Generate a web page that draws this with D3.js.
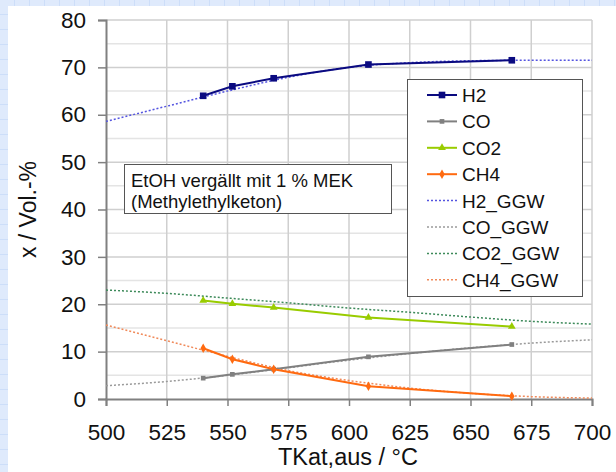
<!DOCTYPE html>
<html>
<head>
<meta charset="utf-8">
<script src="https://cdn.jsdelivr.net/npm/d3@7"></script>
<style>
  body { margin: 0; background: #fff; }
  svg text { font-family: "Liberation Sans", Arial, sans-serif; fill: #111; }
</style>
</head>
<body>
<div id="chart"></div>
<script>
// measured points
const temps = [540, 552, 569, 608, 667];
const h2 = [64.0, 66.0, 67.7, 70.6, 71.5];
const co = [4.4, 5.2, 6.3, 8.9, 11.5];
const co2 = [20.8, 20.1, 19.3, 17.2, 15.3];
const ch4 = [10.7, 8.4, 6.3, 2.7, 0.6];

// equilibrium (GGW) curves
const ggwTemps = [500, 525, 550, 575, 600, 625, 650, 675, 700];
const h2Ggw = [58.6, 61.8, 65.0, 67.9, 70.0, 71.0, 71.4, 71.5, 71.5];
const coGgw = [2.8, 3.7, 5.0, 6.6, 8.2, 9.6, 10.8, 11.8, 12.5];
const co2Ggw = [23.0, 22.3, 21.3, 20.3, 19.2, 18.3, 17.3, 16.4, 15.8];
const ch4Ggw = [15.6, 12.3, 9.0, 6.0, 3.9, 2.3, 1.2, 0.5, 0.2];

const xTicks = [500, 525, 550, 575, 600, 625, 650, 675, 700];
const yTicks = [0, 10, 20, 30, 40, 50, 60, 70, 80];
const yMinor = [5, 15, 25, 35, 45, 55, 65, 75];

const width = 616, height = 472;
const svg = d3.select("#chart").append("svg")
    .attr("width", width)
    .attr("height", height);

// graph paper background
const defs = svg.append("defs");
const pat = defs.append("pattern")
    .attr("id", "paper")
    .attr("width", 15).attr("height", 15)
    .attr("patternUnits", "userSpaceOnUse");
pat.append("rect").attr("width", 15).attr("height", 15).attr("fill", "#dfeafc");
pat.append("path").attr("d", "M15 0V15M0 15H15").attr("stroke", "#bcd2f6").attr("stroke-width", 1).attr("fill", "none");
svg.append("rect").attr("width", width).attr("height", height).attr("fill", "url(#paper)");
svg.append("rect").attr("x", 8).attr("y", 6).attr("width", width - 8).attr("height", height - 6).attr("fill", "#fff");

const x = d3.scaleLinear().domain([500, 700]).range([106, 592]);
const y = d3.scaleLinear().domain([0, 80]).range([399, 20]);

// grid
svg.append("g").selectAll("line").data(yMinor).join("line")
    .attr("x1", x(500)).attr("x2", x(700))
    .attr("y1", d => y(d)).attr("y2", d => y(d))
    .attr("stroke", "#e4e4e4").attr("stroke-width", 1.5);
svg.append("g").selectAll("line").data(yTicks.filter(d => d > 0)).join("line")
    .attr("x1", x(500)).attr("x2", x(700))
    .attr("y1", d => y(d)).attr("y2", d => y(d))
    .attr("stroke", "#cfcfcf").attr("stroke-width", 1.5);
svg.append("g").selectAll("line").data(xTicks.filter(d => d > 500)).join("line")
    .attr("x1", d => x(d)).attr("x2", d => x(d))
    .attr("y1", y(0)).attr("y2", y(80))
    .attr("stroke", "#cfcfcf").attr("stroke-width", 1.5);

// axes
const xAxis = svg.append("g")
    .attr("transform", `translate(0,${y(0)})`)
    .call(d3.axisBottom(x).tickValues(xTicks).tickSize(7).tickPadding(18));
const yAxis = svg.append("g")
    .attr("transform", `translate(${x(500)},0)`)
    .call(d3.axisLeft(y).tickValues(yTicks).tickSize(8).tickPadding(12));
[xAxis, yAxis].forEach(a => {
    a.select(".domain").attr("stroke", "#808080").attr("stroke-width", 2);
    a.selectAll(".tick line").attr("stroke", "#808080").attr("stroke-width", 1.5);
    a.selectAll(".tick text").attr("font-size", 22.5).attr("fill", "#111");
});

svg.append("text")
    .attr("x", x(600) - 1).attr("y", 465)
    .attr("text-anchor", "middle")
    .attr("font-size", 23.5)
    .text("TKat,aus / °C");
svg.append("text")
    .attr("transform", `translate(36,${y(40)}) rotate(-90)`)
    .attr("text-anchor", "middle")
    .attr("font-size", 23)
    .text("x / Vol.-%");

// GGW dotted curves
const ggwSeries = [
    { name: "H2_GGW", vals: h2Ggw, color: "#5555e0" },
    { name: "CO_GGW", vals: coGgw, color: "#9a9a9a" },
    { name: "CO2_GGW", vals: co2Ggw, color: "#3d8a5a" },
    { name: "CH4_GGW", vals: ch4Ggw, color: "#f08a5a" }
];
const curve = d3.line()
    .x(d => x(d[0])).y(d => y(d[1]))
    .curve(d3.curveMonotoneX);
ggwSeries.forEach(s => {
    svg.append("path")
        .datum(ggwTemps.map((t, i) => [t, s.vals[i]]))
        .attr("d", curve)
        .attr("fill", "none")
        .attr("stroke", s.color)
        .attr("stroke-width", 1.5)
        .attr("stroke-dasharray", "2,2");
});

// measured series
const measured = [
    { name: "H2", vals: h2, color: "#0a0a80", marker: d3.symbolSquare, size: 44 },
    { name: "CO", vals: co, color: "#808080", marker: d3.symbolSquare, size: 22 },
    { name: "CO2", vals: co2, color: "#99cc00", marker: d3.symbolTriangle, size: 26 },
    { name: "CH4", vals: ch4, color: "#ff6a10", marker: d3.symbolDiamond, size: 26 }
];
const straight = d3.line().x(d => x(d[0])).y(d => y(d[1]));
measured.forEach(s => {
    const pts = temps.map((t, i) => [t, s.vals[i]]);
    svg.append("path")
        .datum(pts)
        .attr("d", straight)
        .attr("fill", "none")
        .attr("stroke", s.color)
        .attr("stroke-width", 2);
    svg.append("g").selectAll("path").data(pts).join("path")
        .attr("transform", d => `translate(${x(d[0])},${y(d[1])})`)
        .attr("d", d3.symbol().type(s.marker).size(s.size))
        .attr("fill", s.color);
});

// annotation box
svg.append("rect")
    .attr("x", 124.5).attr("y", 164.5).attr("width", 267).attr("height", 49)
    .attr("fill", "#fff").attr("stroke", "#555");
svg.append("text").attr("x", 131).attr("y", 187).attr("font-size", 18.5)
    .text("EtOH vergällt mit 1 % MEK");
svg.append("text").attr("x", 131).attr("y", 208).attr("font-size", 18.5)
    .text("(Methylethylketon)");

// legend
const legend = svg.append("g");
legend.append("rect")
    .attr("x", 407.5).attr("y", 79.5).attr("width", 175).attr("height", 217)
    .attr("fill", "#fff").attr("stroke", "#555");
const items = measured.map(s => ({ ...s, dotted: false }))
    .concat(ggwSeries.map(s => ({ ...s, dotted: true })));
items.forEach((s, i) => {
    const yy = 95 + i * 26.4;
    legend.append("line")
        .attr("x1", 427).attr("x2", 457).attr("y1", yy).attr("y2", yy)
        .attr("stroke", s.color)
        .attr("stroke-width", s.dotted ? 1.5 : 2)
        .attr("stroke-dasharray", s.dotted ? "2,2" : null);
    if (!s.dotted) {
        legend.append("path")
            .attr("transform", `translate(442,${yy})`)
            .attr("d", d3.symbol().type(s.marker).size(s.size))
            .attr("fill", s.color);
    }
    legend.append("text")
        .attr("x", 462).attr("y", yy + 7)
        .attr("font-size", 19)
        .attr("fill", "#222")
        .text(s.name);
});
</script>
</body>
</html>
